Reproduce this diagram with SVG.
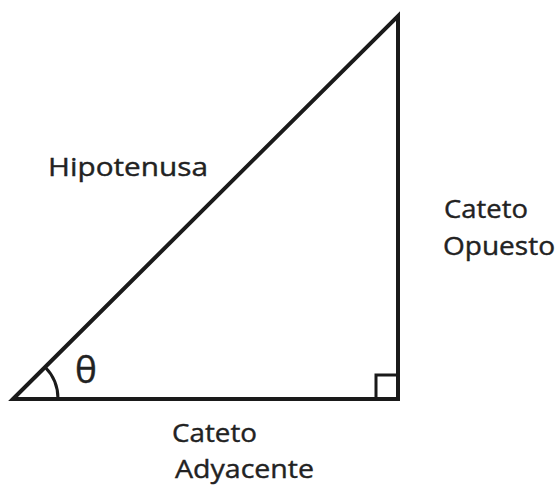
<svg xmlns="http://www.w3.org/2000/svg" width="559" height="486" viewBox="0 0 559 486">
<style>
.l{fill:none;stroke:#1a1a1a;stroke-width:4;stroke-linejoin:miter}
.t{font-family:"Open Sans","Liberation Sans",sans-serif;font-size:26px;fill:#222;stroke:#222;stroke-width:0.4}
</style>
<rect width="559" height="486" fill="#fff"/>
<g id="triangle">
<polygon class="l" points="13,399 398,16 398,399"/>
<polyline class="l" style="stroke-width:3" points="376,399 376,375 398,375"/>
<path class="l" style="stroke-width:3" d="M45,367 A45,45 0 0 1 58,399"/>
</g>
<g id="labels">
<text class="t" x="48" y="176" textLength="160" lengthAdjust="spacingAndGlyphs">Hipotenusa</text>
<text class="t" x="75" y="383" style="font-size:37px">θ</text>
<text class="t" x="444" y="218" textLength="84" lengthAdjust="spacingAndGlyphs">Cateto</text>
<text class="t" x="443" y="255" textLength="112" lengthAdjust="spacingAndGlyphs">Opuesto</text>
<text class="t" x="172" y="442" textLength="85" lengthAdjust="spacingAndGlyphs">Cateto</text>
<text class="t" x="175" y="478" textLength="139" lengthAdjust="spacingAndGlyphs">Adyacente</text>
</g>
</svg>
